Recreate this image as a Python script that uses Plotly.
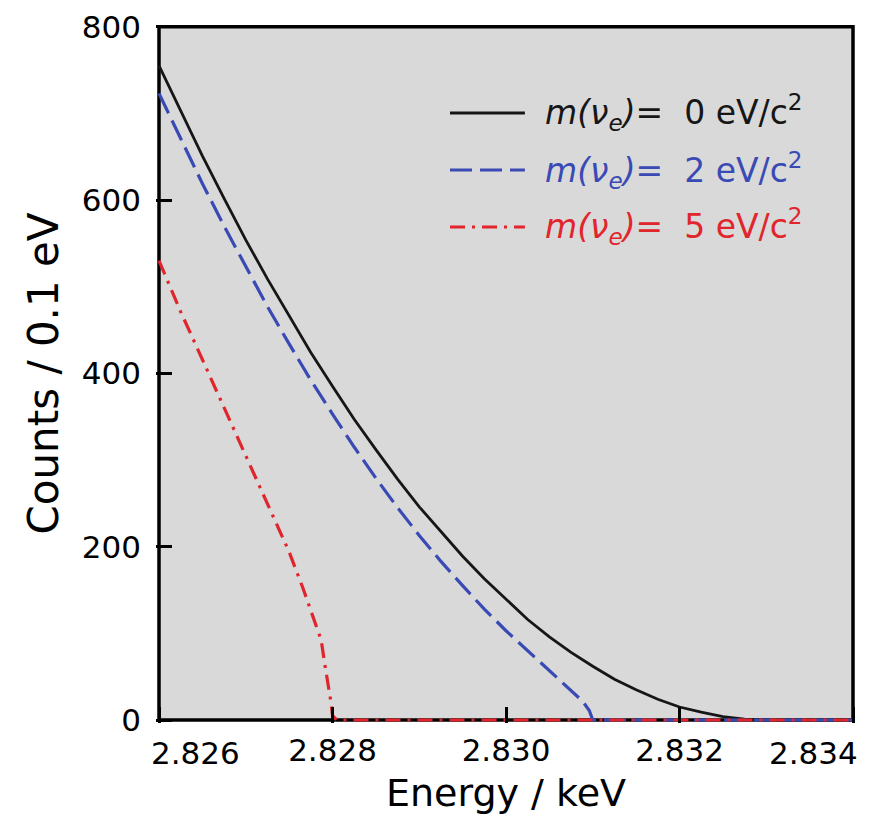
import plotly.graph_objects as go

# Beta spectrum near the endpoint for three neutrino masses (counts per 0.1 eV bin)
energy_m0 = [2.82600, 2.82625, 2.82650, 2.82675, 2.82700, 2.82725, 2.82750, 2.82775,
             2.82800, 2.82825, 2.82850, 2.82875, 2.82900, 2.82925, 2.82950, 2.82975,
             2.83000, 2.83025, 2.83050, 2.83075, 2.83100, 2.83125, 2.83150, 2.83175,
             2.83200, 2.83225, 2.83250, 2.83275, 2.83300, 2.83400]
counts_m0 = [755, 702, 651, 602, 554, 509, 466, 424,
             385, 347, 312, 278, 246, 217, 189, 163,
             139, 116, 96, 78, 62, 47, 35, 24,
             15, 9, 4, 1, 0, 0]

energy_m2 = [2.82600, 2.82625, 2.82650, 2.82675, 2.82700, 2.82725, 2.82750, 2.82775,
             2.82800, 2.82825, 2.82850, 2.82875, 2.82900, 2.82925, 2.82950, 2.82975,
             2.83000, 2.83025, 2.83050, 2.83075, 2.83088, 2.83096, 2.83100, 2.83400]
counts_m2 = [723, 670, 619, 570, 523, 477, 434, 392,
             353, 315, 279, 245, 213, 183, 155, 128,
             103, 80, 57, 35, 22, 11, 0, 0]

energy_m5 = [2.82600, 2.82625, 2.82650, 2.82675, 2.82700, 2.82725, 2.82750, 2.82766,
             2.82775, 2.82787, 2.82791, 2.82795, 2.82798, 2.82800, 2.82805, 2.83400]
counts_m5 = [530, 471, 416, 361, 306, 251, 194, 152,
             127, 92, 65, 42, 22, 5, 0, 0]

masses = [0, 2, 5]
colors = ["#161616", "#3a4ab4", "#e1252c"]
dashes = ["solid", "22px,8px", "15px,7px,3px,7px"]
widths = [2.8, 3.2, 3.2]

x_ticks = [2.826, 2.828, 2.830, 2.832, 2.834]
x_tick_text = ["2.826", "2.828", "2.830", "2.832", "2.834"]
y_ticks = [0, 200, 400, 600, 800]

X_MIN, X_MAX = 2.826, 2.834
Y_MIN, Y_MAX = 0, 800
FONT = "DejaVu Sans"
TICK_SIZE = 31

fig = go.Figure()
series = [(energy_m0, counts_m0), (energy_m2, counts_m2), (energy_m5, counts_m5)]
for (ex, cy), m, c, d, w in zip(series, masses, colors, dashes, widths):
    fig.add_trace(go.Scatter(
        x=ex, y=cy, mode="lines", name=f"m = {m} eV/c²",
        line=dict(color=c, width=w, dash=d),
        showlegend=False, hoverinfo="skip",
    ))

# small padding so lines lying on the frame are not clipped
x_pad = 3 / 86750
y_pad_lo, y_pad_hi = 3.46, 3.1

# framed grey plotting region
fig.add_shape(type="rect", xref="x", yref="y",
              x0=X_MIN, x1=X_MAX, y0=Y_MIN, y1=Y_MAX,
              fillcolor="#d9d9d9", line=dict(color="black", width=3.5),
              layer="below")

# hand-drawn legend
legend_y = [0.8727, 0.7911, 0.7096]
for m, c, d, w, ly in zip(masses, colors, dashes, widths, legend_y):
    fig.add_shape(type="line", xref="paper", yref="paper",
                  x0=0.42, x1=0.527, y0=ly, y1=ly,
                  line=dict(color=c, width=w, dash=d))
    fig.add_annotation(
        xref="paper", yref="paper", x=0.553, y=ly,
        xanchor="left", yanchor="middle", showarrow=False,
        text=f"<i>m(ν<sub>e</sub>)</i>=\u00a0\u00a0{m} eV/c<sup>2</sup>",
        font=dict(family=FONT, size=33, color=c),
    )

# end tick labels kept inside the figure
fig.add_annotation(xref="x", yref="paper", x=x_ticks[0], y=0, xanchor="left",
                   yanchor="top", xshift=-10, yshift=-10, showarrow=False,
                   text=x_tick_text[0], font=dict(family=FONT, size=TICK_SIZE, color="black"))
fig.add_annotation(xref="x", yref="paper", x=x_ticks[-1], y=0, xanchor="right",
                   yanchor="top", xshift=7, yshift=-10, showarrow=False,
                   text=x_tick_text[-1], font=dict(family=FONT, size=TICK_SIZE, color="black"))

fig.update_layout(
    template="none",
    width=869, height=826,
    margin=dict(l=156, r=13, t=24, b=103, pad=0),
    paper_bgcolor="white", plot_bgcolor="white",
    font=dict(family=FONT, color="black"),
    xaxis=dict(
        range=[X_MIN - x_pad, X_MAX + x_pad],
        tickvals=x_ticks,
        ticktext=[""] + x_tick_text[1:-1] + [""],
        ticks="inside", ticklen=16, tickwidth=3, tickcolor="black",
        showgrid=False, zeroline=False, showline=False,
        tickfont=dict(family=FONT, size=TICK_SIZE, color="black"),
        ticklabelstandoff=6,
        title=dict(text="Energy / keV", font=dict(family=FONT, size=38, color="black"),
                   standoff=12),
        automargin=False,
    ),
    yaxis=dict(
        range=[Y_MIN - y_pad_lo, Y_MAX + y_pad_hi],
        tickvals=y_ticks,
        ticks="inside", ticklen=16, tickwidth=3, tickcolor="black",
        showgrid=False, zeroline=False, showline=False,
        tickfont=dict(family=FONT, size=TICK_SIZE, color="black"),
        ticklabelstandoff=14,
        title=dict(text="Counts / 0.1 eV", font=dict(family=FONT, size=42, color="black"),
                   standoff=10),
        automargin=False,
    ),
)

fig.write_html("out.html")
